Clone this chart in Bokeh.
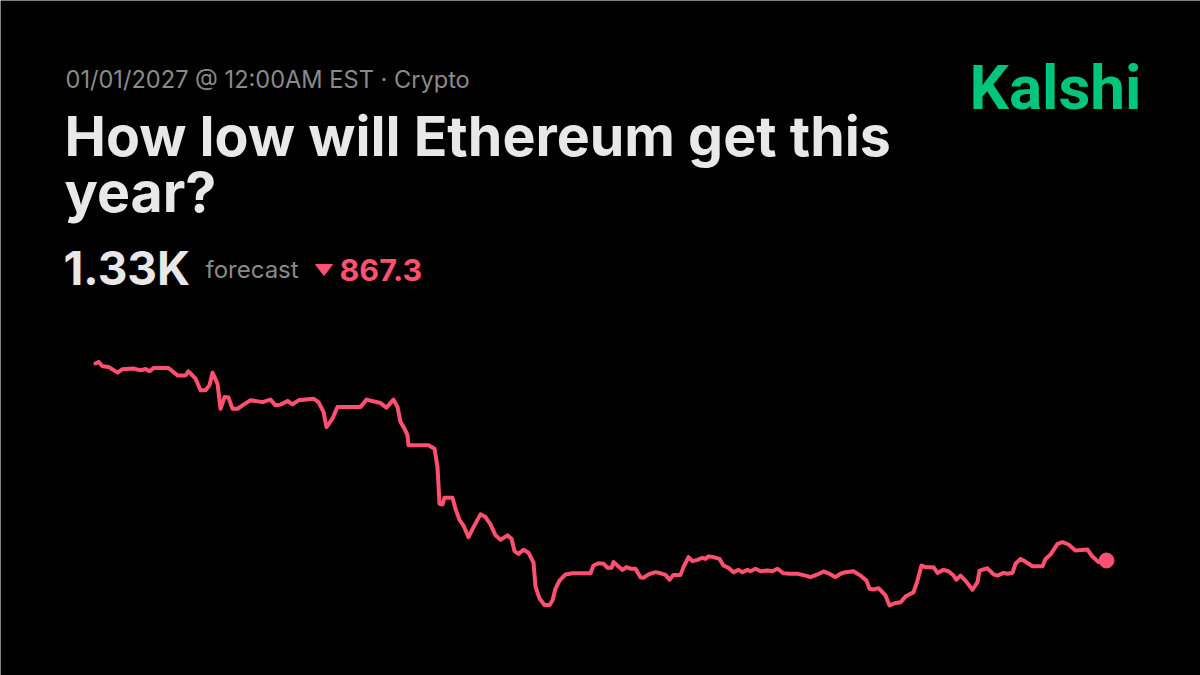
from bokeh.plotting import figure
from bokeh.models import Label, Range1d, ColumnDataSource
from bokeh.embed import file_html
from bokeh.resources import INLINE

# ---- data (time step since open, forecast of ETH yearly low in USD) ----
hours = [0, 3, 7, 13, 22, 27, 38, 45, 50, 54, 58, 73, 82, 90, 93, 100, 105, 110, 114, 117,
         122, 125, 129, 133, 137, 142, 148, 155, 167, 175, 180, 185, 192, 197, 203, 218, 223,
         228, 231, 237, 242, 265, 271, 285, 291, 298, 302, 305, 309, 312, 313, 333, 339, 342,
         344, 347, 349, 357, 360, 364, 368, 373, 378, 385, 390, 395, 400, 405, 412, 416, 419,
         423, 428, 433, 438, 440, 444, 449, 454, 457, 460, 464, 470, 477, 495, 498, 503, 508,
         512, 516, 518, 523, 527, 531, 535, 540, 545, 548, 553, 560, 565, 570, 574, 578, 585,
         588, 593, 597, 602, 607, 610, 613, 618, 624, 628, 633, 638, 643, 647, 652, 655, 660,
         665, 672, 677, 682, 688, 695, 702, 710, 715, 722, 728, 733, 740, 745, 750, 758, 765,
         771, 774, 778, 783, 790, 794, 799, 805, 810, 818, 822, 826, 830, 838, 842, 848, 853,
         858, 861, 865, 870, 877, 882, 884, 892, 898, 902, 908, 912, 917, 920, 925, 928, 937,
         947, 950, 955, 962, 967, 973, 980, 992, 996, 1003, 1011]
forecast = [2192, 2199, 2180, 2177, 2152, 2167, 2170, 2162, 2168, 2158, 2172, 2172, 2140, 2140,
            2158, 2126, 2075, 2075, 2097, 2152, 2104, 1994, 2045, 2043, 1994, 1994, 2012, 2031,
            2023, 2034, 2009, 2012, 2028, 2013, 2031, 2038, 2023, 1980, 1914, 1951, 2002, 2002,
            2034, 2019, 1999, 2034, 2002, 1936, 1907, 1878, 1834, 1834, 1819, 1739, 1578, 1575,
            1605, 1605, 1556, 1508, 1483, 1432, 1476, 1532, 1520, 1488, 1440, 1421, 1440, 1425,
            1371, 1359, 1377, 1364, 1321, 1216, 1164, 1135, 1135, 1155, 1207, 1242, 1269, 1274,
            1274, 1308, 1318, 1316, 1298, 1298, 1323, 1304, 1289, 1301, 1294, 1294, 1257, 1254,
            1269, 1279, 1274, 1267, 1246, 1267, 1267, 1301, 1345, 1327, 1333, 1342, 1337, 1348,
            1345, 1337, 1308, 1298, 1279, 1289, 1279, 1289, 1283, 1294, 1283, 1286, 1283, 1294,
            1274, 1272, 1272, 1264, 1257, 1269, 1282, 1274, 1257, 1272, 1279, 1283, 1264, 1242,
            1206, 1203, 1209, 1177, 1133, 1143, 1147, 1172, 1191, 1242, 1308, 1301, 1301, 1276,
            1289, 1283, 1264, 1246, 1264, 1242, 1202, 1235, 1286, 1296, 1269, 1264, 1276, 1272,
            1276, 1316, 1337, 1330, 1305, 1305, 1337, 1356, 1403, 1410, 1400, 1374, 1378, 1352,
            1323, 1330]

subtitle = "01/01/2027 @ 12:00AM EST \u00b7 Crypto"
title_lines = ["How low will Ethereum get this", "year?"]
headline_value = "1.33K"
headline_label = "forecast"
change_value = "867.3"
brand = "Kalshi"

# ---- style ----
BG = "#000000"
PINK = "#FF5070"
GREEN = "#00C67B"
WHITE = "#E8E8E8"
GRAY = "#8A8A8A"
FONT = "Inter"

W, H, OFF = 1200, 675, 0
# page-pixel anchors for the plot area
X0_PX, X1_PX = 95, 1106
YFIRST_PX, YLAST_PX = 363, 560

sx = (X1_PX - X0_PX) / (hours[-1] - hours[0])          # px per step
ky = (forecast[0] - forecast[-1]) / (YLAST_PX - YFIRST_PX)  # USD per px

x_start = hours[0] - (X0_PX - OFF) / sx
x_end = x_start + W / sx
y_start = forecast[-1] - ((OFF + H) - YLAST_PX) * ky
y_end = forecast[-1] + (YLAST_PX - OFF) * ky


def px2data(px, py):
    return x_start + (px - OFF) / sx, y_start + ((OFF + H) - py) * ky


p = figure(width=W, height=H, output_backend="svg", toolbar_location=None,
           x_range=Range1d(x_start, x_end), y_range=Range1d(y_start, y_end),
           min_border=0, background_fill_color=BG, border_fill_color=BG)
p.axis.visible = False
p.grid.visible = False
p.outline_line_color = None

src = ColumnDataSource(dict(t=hours, v=forecast))
p.line("t", "v", source=src, line_color=PINK, line_width=4,
       line_join="round", line_cap="round")
p.scatter([hours[-1]], [forecast[-1]], size=15, color=PINK, line_color=PINK)

BASE_FIX = 0.375  # empirical baseline shift of screen-unit labels


def lab(text, px, py, size, color, bold=False, font=FONT):
    py = py - BASE_FIX * size
    p.add_layout(Label(x=px - OFF, y=(OFF + H) - py, x_units="screen", y_units="screen",
                       text=text, text_font=font, text_font_size=f"{size}px",
                       text_color=color, text_font_style="bold" if bold else "normal",
                       text_baseline="alphabetic", text_align="left"))


lab(subtitle, 65, 88, 23.6, GRAY)
lab(title_lines[0], 64, 156, 55.5, WHITE, bold=True)
lab(title_lines[1], 64, 212, 55.5, WHITE, bold=True)
lab(headline_value, 63, 285, 46, WHITE, bold=True)
lab(headline_label, 205, 278, 24, GRAY)
lab(change_value, 339, 281, 30.5, PINK, bold=True)
lab(brand, 969, 110, 62, GREEN, bold=True, font="Roboto")

# down-arrow triangle next to the change value
tri = [px2data(315, 264), px2data(332, 264), px2data(323.5, 275)]
p.patch([a for a, b in tri], [b for a, b in tri], color=PINK, line_color=PINK)

open("out.html", "w").write(file_html(p, INLINE))
